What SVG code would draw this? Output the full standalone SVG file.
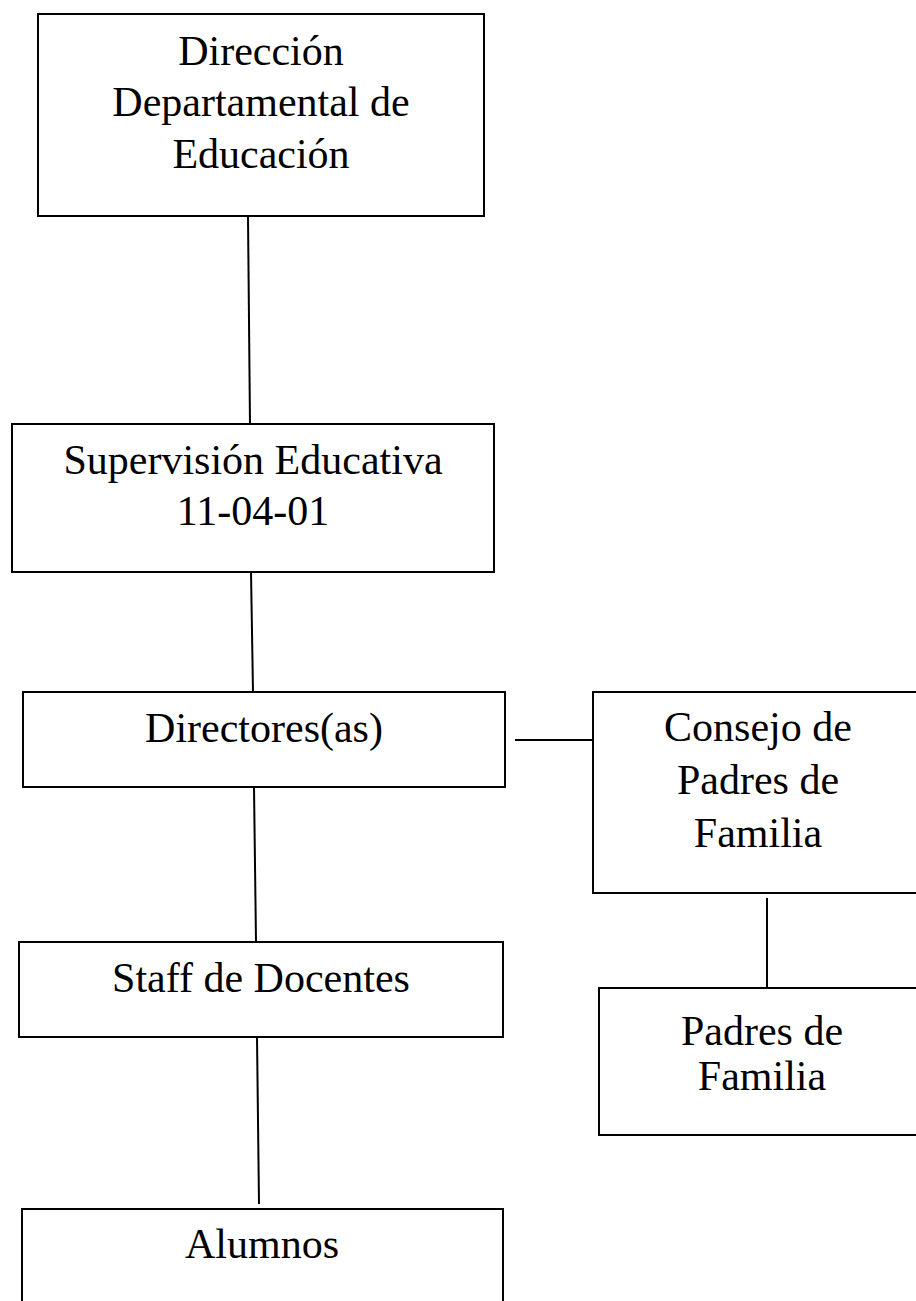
<svg xmlns="http://www.w3.org/2000/svg" width="916" height="1301" viewBox="0 0 916 1301">
<style>
.box{fill:#fff;stroke:#000;stroke-width:2}
.lbl{font-family:"Liberation Serif","Times New Roman",serif;font-size:42px;fill:#000;text-anchor:middle}
.con{stroke:#000;stroke-width:2;fill:none}
</style>
<rect width="916" height="1301" fill="#fff"/>
<g id="connectors">
<line class="con" x1="248" y1="216" x2="250" y2="424"/>
<line class="con" x1="251" y1="572" x2="253" y2="692"/>
<line class="con" x1="254" y1="787" x2="256" y2="942"/>
<line class="con" x1="257" y1="1037" x2="259" y2="1204"/>
<line class="con" x1="515" y1="740" x2="593" y2="740"/>
<line class="con" x1="767" y1="898" x2="767" y2="988"/>
</g>
<g id="n1">
<rect class="box" x="38" y="14" width="446" height="202"/>
<text class="lbl" x="261" y="65">Dirección</text>
<text class="lbl" x="261" y="116">Departamental de</text>
<text class="lbl" x="261" y="168">Educación</text>
</g>
<g id="n2">
<rect class="box" x="12" y="424" width="482" height="148"/>
<text class="lbl" x="253" y="474">Supervisión Educativa</text>
<text class="lbl" x="253" y="525">11-04-01</text>
</g>
<g id="n3">
<rect class="box" x="23" y="692" width="482" height="95"/>
<text class="lbl" x="264" y="742">Directores(as)</text>
</g>
<g id="n4">
<rect class="box" x="593" y="692" width="330" height="201"/>
<text class="lbl" x="758" y="741">Consejo de</text>
<text class="lbl" x="758" y="794">Padres de</text>
<text class="lbl" x="758" y="847">Familia</text>
</g>
<g id="n5">
<rect class="box" x="599" y="988" width="330" height="147"/>
<text class="lbl" x="762" y="1045">Padres de</text>
<text class="lbl" x="762" y="1090">Familia</text>
</g>
<g id="n6">
<rect class="box" x="19" y="942" width="484" height="95"/>
<text class="lbl" x="261" y="992">Staff de Docentes</text>
</g>
<g id="n7">
<rect class="box" x="22" y="1209" width="481" height="110"/>
<text class="lbl" x="262" y="1258">Alumnos</text>
</g>
</svg>
